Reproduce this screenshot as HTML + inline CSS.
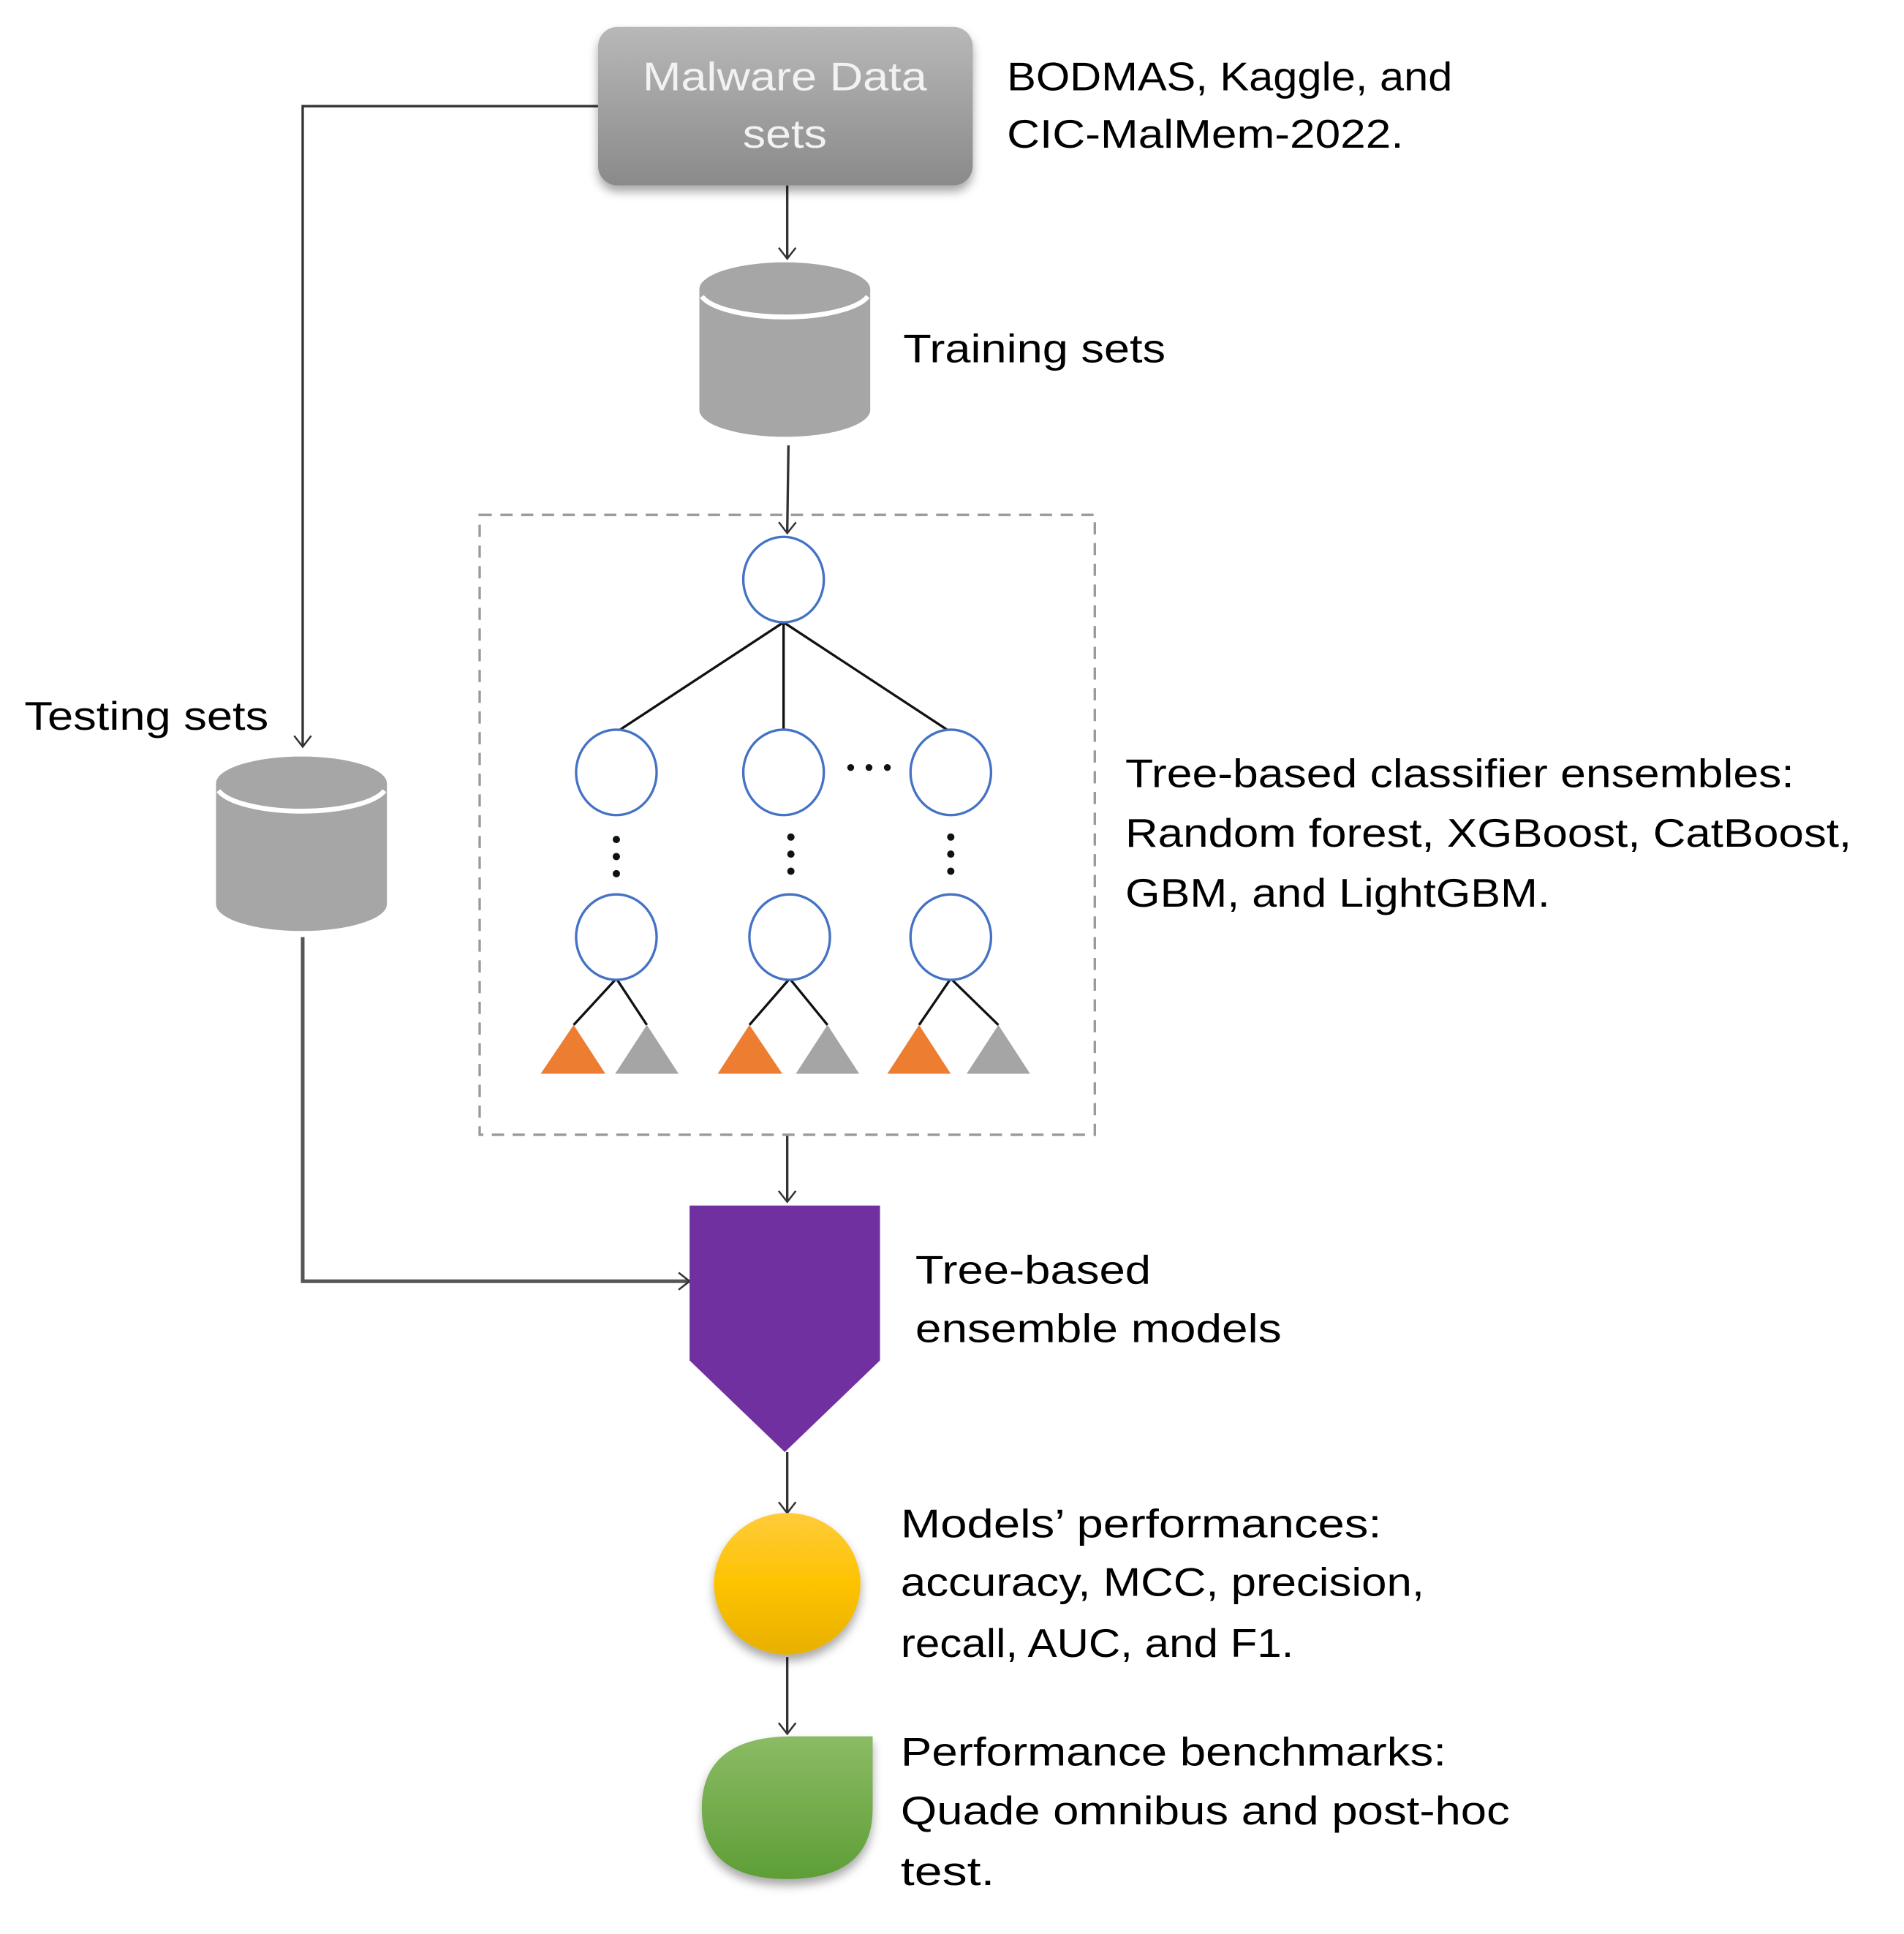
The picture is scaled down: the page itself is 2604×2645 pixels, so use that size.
<!DOCTYPE html>
<html><head><meta charset="utf-8"><style>html,body{margin:0;padding:0;background:#fff}svg{display:block}</style></head>
<body>
<svg width="2604" height="2645" viewBox="0 0 1560 1585" preserveAspectRatio="none" xmlns="http://www.w3.org/2000/svg" font-family="Liberation Sans, sans-serif" font-size="33" fill="#000">
<defs>
<linearGradient id="gb" x1="0" y1="0" x2="0" y2="1"><stop offset="0" stop-color="#b8b8b8"/><stop offset="1" stop-color="#8a8a8a"/></linearGradient>
<linearGradient id="gy" x1="0" y1="0" x2="0" y2="1"><stop offset="0" stop-color="#ffcb3a"/><stop offset="0.5" stop-color="#fdc300"/><stop offset="1" stop-color="#e8b000"/></linearGradient>
<linearGradient id="gg" x1="0" y1="0" x2="0" y2="1"><stop offset="0" stop-color="#8bbb65"/><stop offset="1" stop-color="#5e9e36"/></linearGradient>
<filter id="sh" x="-20%" y="-20%" width="140%" height="150%"><feDropShadow dx="0" dy="5" stdDeviation="4" flood-color="#000" flood-opacity="0.35"/></filter>
<marker id="ar" markerWidth="20" markerHeight="20" refX="10" refY="10" orient="auto" markerUnits="userSpaceOnUse"><path d="M1,3 L10,10 L1,17" fill="none" stroke="#333" stroke-width="1.5"/></marker>
</defs>
<g stroke="#333" stroke-width="2" fill="none">
<polyline points="490,87 248,87 248,612" marker-end="url(#ar)"/>
<line x1="645" y1="152" x2="645" y2="212" marker-end="url(#ar)"/>
<line x1="646" y1="365" x2="645" y2="437" marker-end="url(#ar)"/>
<polyline points="248,768 248,1050 565,1050" marker-end="url(#ar)" stroke="#555" stroke-width="3"/>
<line x1="645" y1="930" x2="645" y2="985" marker-end="url(#ar)"/>
<line x1="645" y1="1190" x2="645" y2="1240" marker-end="url(#ar)"/>
<line x1="645" y1="1358" x2="645" y2="1421" marker-end="url(#ar)"/>
</g>
<rect x="490" y="22" width="307" height="130" rx="16" fill="url(#gb)" filter="url(#sh)"/>
<text x="643" y="74" text-anchor="middle" fill="#f2f2f2" textLength="233" lengthAdjust="spacingAndGlyphs">Malware Data</text>
<text x="643" y="121" text-anchor="middle" fill="#f2f2f2" textLength="69" lengthAdjust="spacingAndGlyphs">sets</text>
<text x="825" y="74" textLength="365" lengthAdjust="spacingAndGlyphs">BODMAS, Kaggle, and</text>
<text x="825" y="121" textLength="325" lengthAdjust="spacingAndGlyphs">CIC-MalMem-2022.</text>
<!-- training cylinder -->
<path d="M573,237 A70,22 0 0 1 713,237 L713,336 A70,22 0 0 1 573,336 Z" fill="#a6a6a6"/>
<path d="M575,243 A70,22 0 0 0 711,243" fill="none" stroke="#fff" stroke-width="4"/>
<text x="740" y="297" textLength="215" lengthAdjust="spacingAndGlyphs">Training sets</text>
<!-- testing cylinder -->
<path d="M177,642 A70,22 0 0 1 317,642 L317,741 A70,22 0 0 1 177,741 Z" fill="#a6a6a6"/>
<path d="M179,648 A70,22 0 0 0 315,648" fill="none" stroke="#fff" stroke-width="4"/>
<text x="20" y="598" textLength="200" lengthAdjust="spacingAndGlyphs">Testing sets</text>
<!-- dashed box -->
<rect x="393" y="422" width="504" height="508" fill="none" stroke="#999" stroke-width="2" stroke-dasharray="10,7"/>
<g stroke="#111" stroke-width="2">
<line x1="642" y1="510" x2="505" y2="600"/><line x1="642" y1="510" x2="642" y2="600"/><line x1="642" y1="510" x2="779" y2="600"/>
<polyline fill="none" points="470,840 505,802 530,840"/>
<polyline fill="none" points="614,840 647,802 678,840"/>
<polyline fill="none" points="753,840 779,802 818,840"/>
</g>
<g fill="#fff" stroke="#4472c4" stroke-width="2">
<ellipse cx="642" cy="475" rx="33" ry="35"/>
<ellipse cx="505" cy="633" rx="33" ry="35"/><ellipse cx="642" cy="633" rx="33" ry="35"/><ellipse cx="779" cy="633" rx="33" ry="35"/>
<ellipse cx="505" cy="768" rx="33" ry="35"/><ellipse cx="647" cy="768" rx="33" ry="35"/><ellipse cx="779" cy="768" rx="33" ry="35"/>
</g>
<g fill="#111">
<circle cx="697" cy="629" r="2.8"/><circle cx="712" cy="629" r="2.8"/><circle cx="727" cy="629" r="2.8"/>
<circle cx="505" cy="688" r="3"/><circle cx="505" cy="702" r="3"/><circle cx="505" cy="716" r="3"/>
<circle cx="648" cy="686" r="3"/><circle cx="648" cy="700" r="3"/><circle cx="648" cy="714" r="3"/>
<circle cx="779" cy="686" r="3"/><circle cx="779" cy="700" r="3"/><circle cx="779" cy="714" r="3"/>
</g>
<g>
<polygon points="470,840 443,880 496,880" fill="#ed7d31"/><polygon points="530,840 504,880 556,880" fill="#a5a5a5"/>
<polygon points="614,840 588,880 641,880" fill="#ed7d31"/><polygon points="678,840 652,880 704,880" fill="#a5a5a5"/>
<polygon points="753,840 727,880 779,880" fill="#ed7d31"/><polygon points="818,840 792,880 844,880" fill="#a5a5a5"/>
</g>
<text x="922" y="645" textLength="548" lengthAdjust="spacingAndGlyphs">Tree-based classifier ensembles:</text>
<text x="922" y="694" textLength="595" lengthAdjust="spacingAndGlyphs">Random forest, XGBoost, CatBoost,</text>
<text x="922" y="743" textLength="348" lengthAdjust="spacingAndGlyphs">GBM,  and LightGBM.</text>
<!-- purple -->
<polygon points="565,988 721,988 721,1115 643,1190 565,1115" fill="#7030a0"/>
<text x="750" y="1052" textLength="193" lengthAdjust="spacingAndGlyphs">Tree-based</text>
<text x="750" y="1100" textLength="300" lengthAdjust="spacingAndGlyphs">ensemble models</text>
<!-- yellow -->
<ellipse cx="645" cy="1298" rx="60" ry="58" fill="url(#gy)" filter="url(#sh)"/>
<text x="738" y="1260" textLength="394" lengthAdjust="spacingAndGlyphs">Models’ performances:</text>
<text x="738" y="1308" textLength="429" lengthAdjust="spacingAndGlyphs">accuracy, MCC, precision,</text>
<text x="738" y="1358" textLength="322" lengthAdjust="spacingAndGlyphs">recall, AUC, and F1.</text>
<!-- green -->
<path d="M650,1423 L715,1423 L715,1482 Q715,1540 645,1540 Q575,1540 575,1482 Q575,1423 650,1423 Z" fill="url(#gg)" filter="url(#sh)"/>
<text x="738" y="1447" textLength="447" lengthAdjust="spacingAndGlyphs">Performance benchmarks:</text>
<text x="738" y="1495" textLength="499" lengthAdjust="spacingAndGlyphs">Quade omnibus and post-hoc</text>
<text x="738" y="1545" textLength="77" lengthAdjust="spacingAndGlyphs">test.</text>
</svg>
</body></html>
